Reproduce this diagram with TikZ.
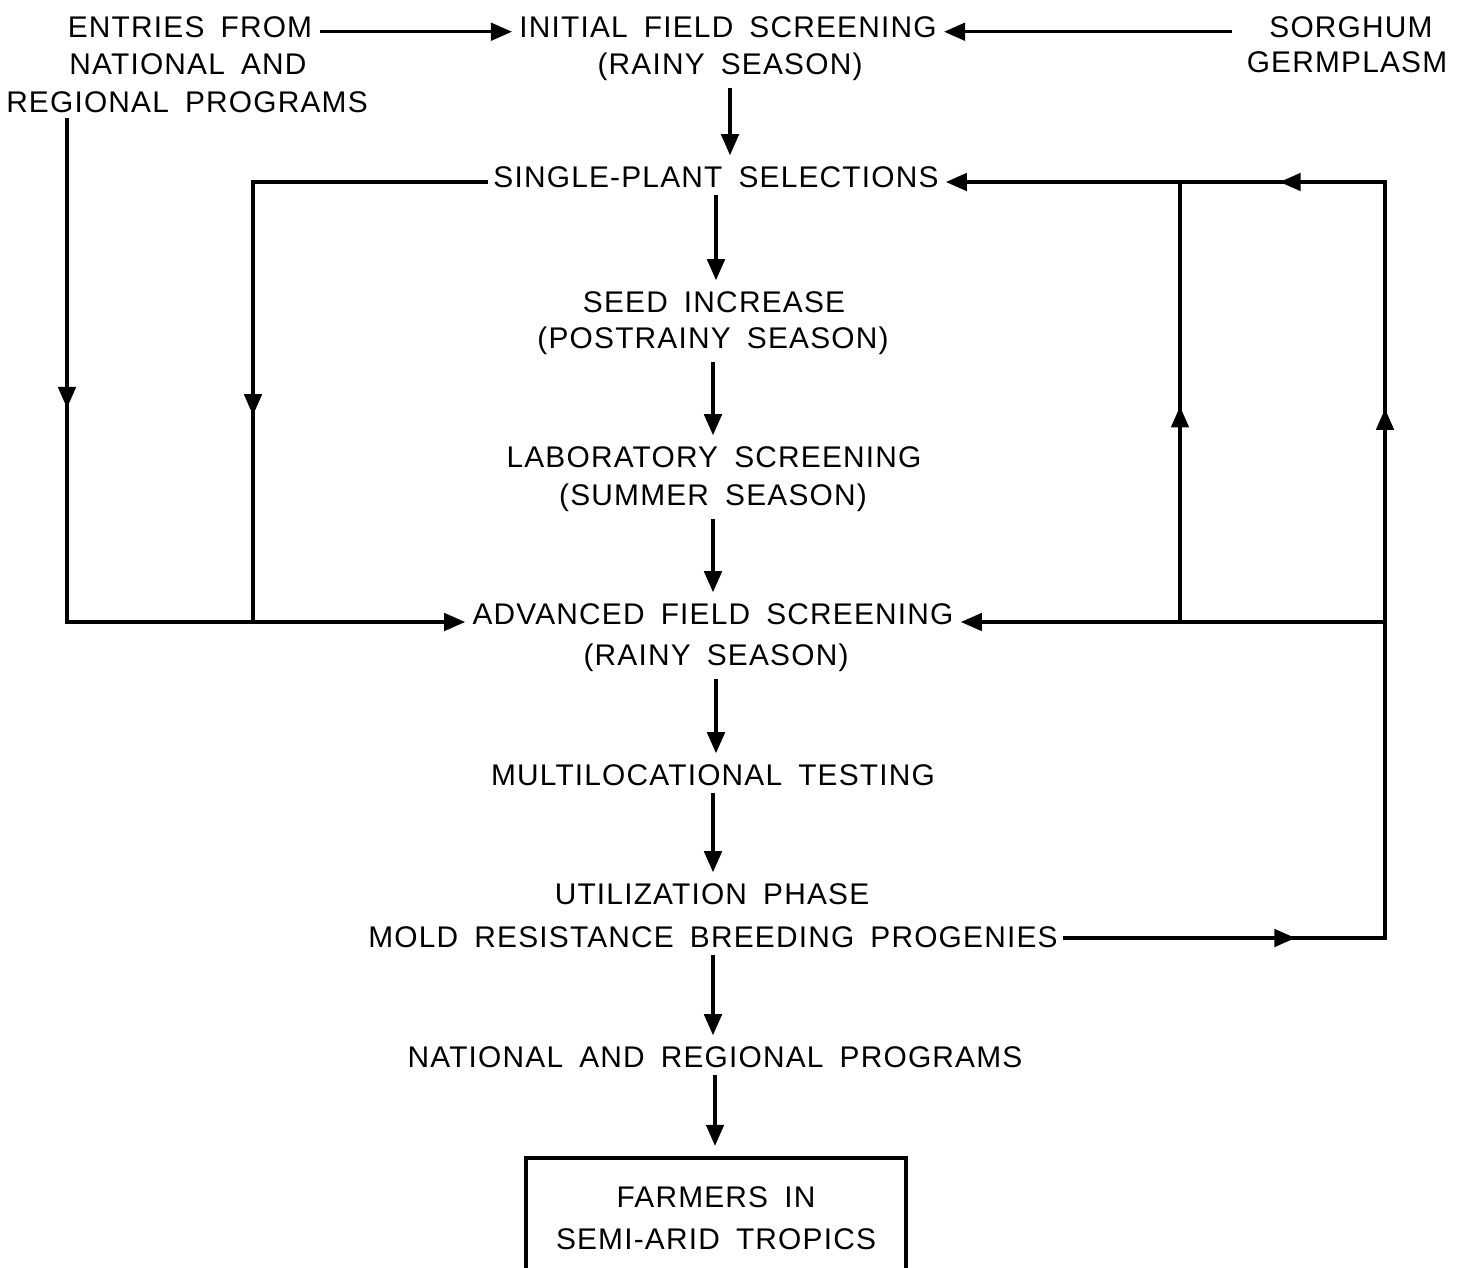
\documentclass[tikz,border=0pt]{standalone}
\usepackage{fontspec}
\setmainfont{Liberation Sans}[LetterSpace=4, WordSpace=1.7]
\usetikzlibrary{arrows.meta, positioning, decorations.markings}
\tikzset{
    txt/.style={inner xsep=4pt, inner ysep=0pt, anchor=base, font=\fontsize{17}{21}\selectfont},
    farmbox/.style={rectangle, draw=black, line width=1.8pt, align=center, minimum width=7.6cm, minimum height=2.4cm, font=\fontsize{17}{24}\selectfont},
    wire/.style={line width=1.8pt, line cap=rect},
    arrow/.style={-{Triangle[length=12pt, width=10pt]}, line width=1.8pt},
    down/.style={arrow, shorten <=4pt, shorten >=6pt},
    midtip/.style={postaction={decorate}, decoration={markings, mark=at position #1 with {\arrow{Triangle[length=12pt, width=10pt]}}}}
}
\begin{document}
\begin{tikzpicture}[x=0.02cm, y=-0.02cm]
        \useasboundingbox (0,0) rectangle (1461,1268);

        % Sources
        \node[txt] (EntA) at (190,37) {ENTRIES FROM};
        \node[txt] (EntB) at (188,74) {NATIONAL AND};
        \node[txt] (EntC) at (187,112) {REGIONAL PROGRAMS};
        \node[txt] (GermA) at (1351,37) {SORGHUM};
        \node[txt] (GermB) at (1347,72) {GERMPLASM};

        % Main column
        \node[txt] (InitA) at (728,37) {INITIAL FIELD SCREENING};
        \node[txt] (InitB) at (730,74) {(RAINY SEASON)};
        \node[txt] (SingleA) at (716,187) {SINGLE-PLANT SELECTIONS};
        \node[txt] (SeedA) at (714,312) {SEED INCREASE};
        \node[txt] (SeedB) at (713,348) {(POSTRAINY SEASON)};
        \node[txt] (LabA) at (714,467) {LABORATORY SCREENING};
        \node[txt] (LabB) at (713,505) {(SUMMER SEASON)};
        \node[txt] (AdvA) at (713,624) {ADVANCED FIELD SCREENING};
        \node[txt] (AdvB) at (716,665) {(RAINY SEASON)};
        \node[txt] (MultiA) at (713,785) {MULTILOCATIONAL TESTING};
        \node[txt] (UtilA) at (712,904) {UTILIZATION PHASE};
        \node[txt] (UtilB) at (713,947) {MOLD RESISTANCE BREEDING PROGENIES};
        \node[txt] (Natl) at (715,1067) {NATIONAL AND REGIONAL PROGRAMS};

        % Output
        \node[farmbox] (Farm) at (716,1218) {FARMERS IN\\SEMI-ARID TROPICS};

        % Corners
        \coordinate (LeftBot) at (67,622);
        \coordinate (MidBot) at (253,622);
        \coordinate (MidTop) at (253,182);
        \coordinate (RightA) at (1180,622);
        \coordinate (RightATop) at (1180,182);
        \coordinate (RightB) at (1385,622);
        \coordinate (RightBTop) at (1385,182);
        \coordinate (RightBBot) at (1385,938);

        % Connections
        \draw[arrow] ([yshift=3pt]EntA.base east) -- ([yshift=3pt]InitA.base west);
        \draw[arrow, shorten <=0.6cm] ([yshift=3pt]GermA.base west) -- ([yshift=3pt]InitA.base east);

        \draw[down] (InitB.south) -- (InitB.south |- SingleA.north);
        \draw[down] (SingleA.south) -- (SingleA.south |- SeedA.north);
        \draw[down] (SeedB.south) -- (SeedB.south |- LabA.north);
        \draw[down] (LabB.south) -- (LabB.south |- AdvA.north);
        \draw[down] (AdvB.south) -- (AdvB.south |- MultiA.north);
        \draw[down] (MultiA.south) -- (MultiA.south |- UtilA.north);
        \draw[down] (UtilB.south) -- (UtilB.south |- Natl.north);
        \draw[down] (Natl.south) -- (Natl.south |- Farm.north);

        \draw[wire, midtip=0.58, shorten <=4pt] (EntC.south -| LeftBot) -- (LeftBot);
        \draw[arrow] (LeftBot) -- (LeftBot -| AdvA.west);
        \draw[wire] (MidTop -| SingleA.west) -- (MidTop);
        \draw[wire, midtip=0.53] (MidTop) -- (MidBot);

        \draw[arrow] (RightB) -- (RightB -| AdvA.east);
        \draw[wire, midtip=0.49] (RightA) -- (RightATop);
        \draw[wire, midtip=0.72] (UtilB.east |- RightBBot) -- (RightBBot);
        \draw[wire, midtip=0.70] (RightBBot) -- (RightBTop);
        \draw[arrow, midtip=0.24] (RightBTop) -- (RightBTop -| SingleA.east);

    \end{tikzpicture}
\end{document}
